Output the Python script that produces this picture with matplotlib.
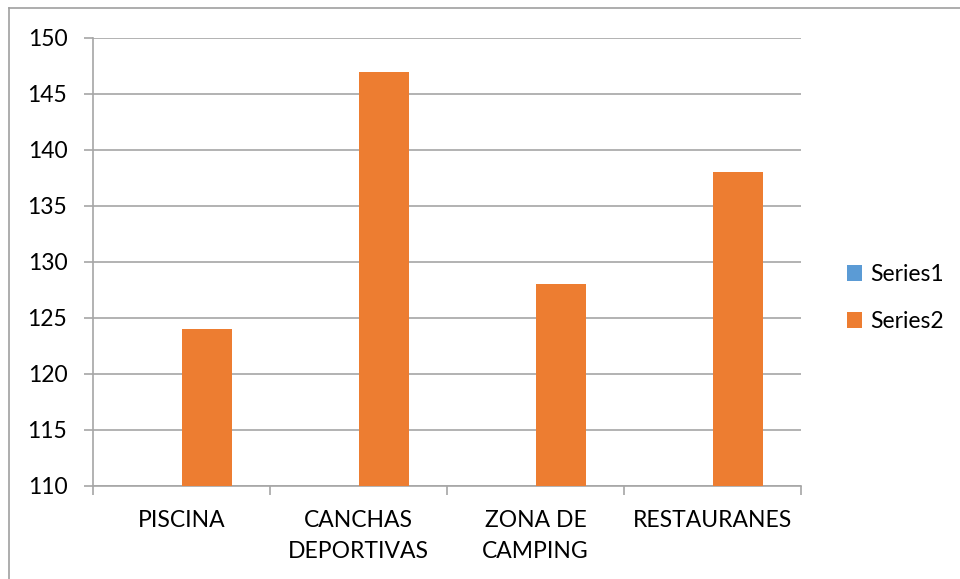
import matplotlib
matplotlib.use("Agg")
import matplotlib.pyplot as plt
from matplotlib.lines import Line2D
from matplotlib.patches import Patch
import numpy as np

categories = ["PISCINA", "CANCHAS\nDEPORTIVAS", "ZONA DE\nCAMPING", "RESTAURANES"]
series1 = [0, 0, 0, 0]
series2 = [124, 147, 128, 138]
series_names = ["Series1", "Series2"]
yticks = [110, 115, 120, 125, 130, 135, 140, 145, 150]

plt.rcParams['font.family'] = ['Lato', 'DejaVu Sans']
FS = 16.5

fig = plt.figure(figsize=(9.6, 5.79), dpi=100)
ax = fig.add_axes([93/960, 1-486/579, (801-93)/960, (486-38)/579])

x = np.arange(len(categories))
w = 0.288
c1 = "#5B9BD5"
c2 = "#ED7D31"
ax.bar(x - w/2, series1, width=w, color=c1, zorder=3)
ax.bar(x + w/2, series2, width=w, color=c2, zorder=3)

ax.set_xlim(-0.5, 3.5)
ax.set_ylim(110, 150)
ax.set_yticks(yticks)
ax.set_yticklabels([str(v) for v in yticks], fontsize=FS, color="#000000")
ax.yaxis.grid(True, color="#A6A6A6", linewidth=1.2, zorder=0)

ax.set_xticks(x)
ax.set_xticklabels(categories, fontsize=FS, linespacing=1.6)
ax.tick_params(axis='x', length=0, pad=17)
ax.set_xticks(np.arange(-0.5, 4.0, 1.0), minor=True)
ax.tick_params(axis='x', which='minor', length=6.5, color="#A6A6A6", width=1.2)
ax.tick_params(axis='y', length=6.5, color="#A6A6A6", width=1.2, pad=12)

for s in ["top", "right"]:
    ax.spines[s].set_visible(False)
for s in ["left", "bottom"]:
    ax.spines[s].set_color("#A6A6A6")
    ax.spines[s].set_linewidth(1.2)

handles = [Patch(facecolor=c1, edgecolor='none'), Patch(facecolor=c2, edgecolor='none')]
fig.legend(handles, series_names, loc='center left', bbox_to_anchor=(826/960, 1-298/579),
           frameon=False, fontsize=FS, handlelength=0.68, handleheight=0.68,
           handletextpad=0.35, labelspacing=1.15)

# outer chart border (top and left visible)
fig.add_artist(Line2D([9/960, 1.0], [1-8/579, 1-8/579], transform=fig.transFigure, color="#A0A0A0", linewidth=1.2))
fig.add_artist(Line2D([9/960, 9/960], [0, 1-8/579], transform=fig.transFigure, color="#A0A0A0", linewidth=1.2))

fig.savefig("out.png", dpi=100)
